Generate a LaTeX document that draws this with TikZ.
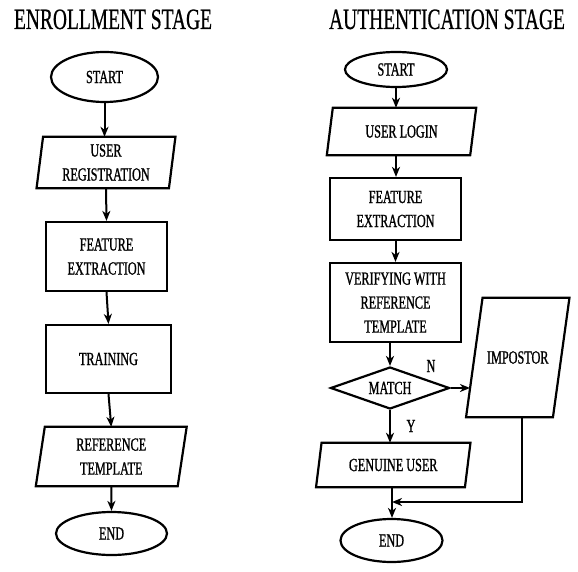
\documentclass[tikz,border=0pt]{standalone}
\usepackage{fontspec}
\setmainfont{Liberation Serif}[FakeStretch=0.66,FakeBold=1.0]
\newfontfamily\titlefam{Liberation Serif}[FakeStretch=0.66,FakeBold=0.6]
\usetikzlibrary{shapes.geometric,arrows.meta}
\newcommand{\boxfont}{\fontsize{18.5}{24}\selectfont}
\newcommand{\titlefont}{\titlefam\fontsize{29.5}{32}\selectfont}
\newcommand{\paral}[2]{\draw[shapeline] ([xshift=#2pt]#1.north west) -- ([xshift=#2pt]#1.north east) -- ([xshift=-#2pt]#1.south east) -- ([xshift=-#2pt]#1.south west) -- cycle;}
\begin{document}
\begin{tikzpicture}[x=1pt,y=-1pt,
  shapeline/.style={line width=2.2pt,line join=miter},
  base/.style={inner sep=0pt,align=center,font=\boxfont},
  boxr/.style={base,draw,shapeline,rectangle},
  ell/.style={base,draw,shapeline,ellipse},
  dia/.style={base,draw,shapeline,diamond,aspect=2.8},
  para/.style={base,rectangle},
  arr/.style={line width=2pt,-{Stealth[length=10pt,width=8pt,inset=3pt]}},
  lab/.style={font=\boxfont,inner sep=0pt},
  ttl/.style={font=\titlefont,inner sep=0pt,anchor=base}]
\useasboundingbox (0,0) rectangle (578,572);
% titles
\node[ttl] (t1) at (113,29) {ENROLLMENT STAGE};
\node[ttl] (t2) at (447,29) {AUTHENTICATION STAGE};
% enrollment
\node[ell,minimum width=107pt,minimum height=50pt] (s1) at (104.5,77) {START};
\node[para,minimum width=132pt,minimum height=51pt] (ur) at (106,162.5) {USER\\REGISTRATION};
\paral{ur}{3.25}
\node[boxr,minimum width=121pt,minimum height=69pt] (fe1) at (106.5,256.5) {FEATURE\\EXTRACTION};
\node[boxr,minimum width=125pt,minimum height=68pt] (tr) at (108.5,359) {TRAINING};
\node[para,minimum width=141.5pt,minimum height=59pt] (rt) at (111.25,456.5) {REFERENCE\\TEMPLATE};
\paral{rt}{4.5}
\node[ell,minimum width=111pt,minimum height=43pt] (e1) at (111.5,533.5) {END};
\draw[arr] (s1.south) -- (s1.south |- ur.north);
\draw[arr] (ur.south) -- (fe1.north);
\draw[arr] (fe1.south) -- (tr.north);
\draw[arr] (tr.south) -- (rt.north);
\draw[arr] (rt.south) -- (e1.north);
% authentication
\node[ell,minimum width=102pt,minimum height=35pt] (s2) at (396,69.5) {START};
\node[para,minimum width=143pt,minimum height=47pt] (ul) at (401.5,131.5) {USER LOGIN};
\paral{ul}{3}
\node[boxr,minimum width=131pt,minimum height=62pt] (fe2) at (395.5,209) {FEATURE\\EXTRACTION};
\node[boxr,minimum width=131pt,minimum height=79pt] (vf) at (395.5,302.5) {VERIFYING WITH\\REFERENCE\\TEMPLATE};
\node[dia,minimum width=119pt,minimum height=42pt] (m) at (390,388) {MATCH};
\node[para,minimum width=86.5pt,minimum height=119pt] (imp) at (517.75,357.5) {IMPOSTOR};
\paral{imp}{8.25}
\node[para,minimum width=148.5pt,minimum height=44pt] (gu) at (393.25,465) {GENUINE USER};
\paral{gu}{2.75}
\node[ell,minimum width=102pt,minimum height=43pt] (e2) at (391.5,540.5) {END};
\coordinate (impin) at (470,388);
\coordinate (impout) at (522,417);
\coordinate (join) at (392,502);
\draw[arr] (s2.south) -- (s2.south |- ul.north);
\draw[arr] (s2.south |- ul.south) -- (s2.south |- fe2.north);
\draw[arr] (fe2.south) -- (fe2.south |- vf.north);
\draw[arr] (m.north |- vf.south) -- (m.north);
\draw[arr] (m.east) -- (impin);
\draw[arr] (m.south) -- (m.south |- gu.north);
\draw[arr] (join |- gu.south) -- (join |- e2.north);
\draw[arr] (impout) |- (join);
\node[lab] (n) at (431,366) {N};
\node[lab] (y) at (411,426) {Y};
\end{tikzpicture}
\end{document}
